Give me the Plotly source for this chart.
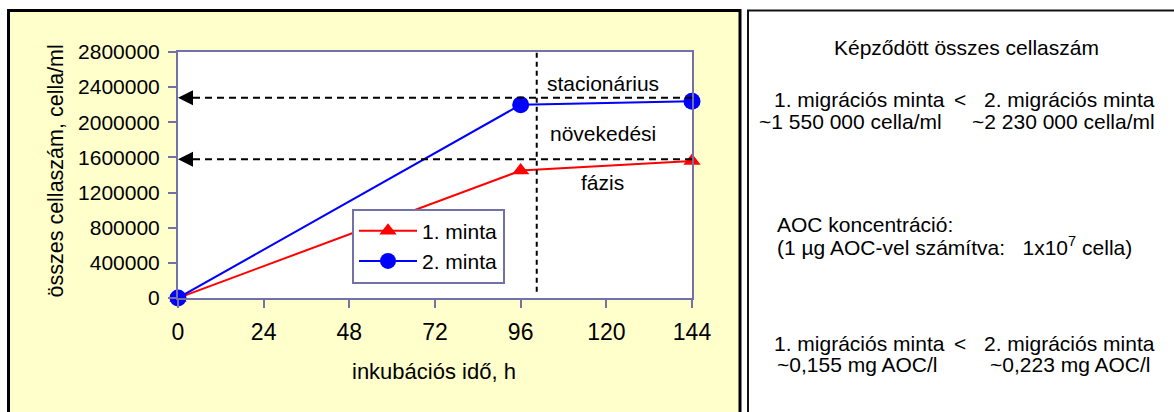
import plotly.graph_objects as go

# ---- data ----
time_h = [0, 96, 144]
minta1 = [0, 1450000, 1560000]
minta2 = [0, 2200000, 2240000]
series_names = ["1. minta", "2. minta"]
x_ticks = [0, 24, 48, 72, 96, 120, 144]
y_ticks = [0, 400000, 800000, 1200000, 1600000, 2000000, 2400000, 2800000]
level_stat = [2280000, 1580000]   # dashed arrow levels
phase_x = 100.5                   # vertical phase boundary
phase_labels = ["stacionárius", "növekedési", "fázis"]
phase_label_y = [2445000, 1877000, 1320000]
phase_label_x = 119

FONT = "Liberation Sans, Arial, sans-serif"
AX = "#7272A8"

# plot-area pixel geometry
L, T, W, H = 178, 52, 514, 246
FW, FH = 1174, 412


def px(x):
    return (x - L) / W


def py(y):
    return 1 - (y - T) / H


fig = go.Figure()
fig.add_trace(go.Scatter(x=time_h, y=minta1, name=series_names[0], mode="lines+markers",
                         line=dict(color="#FF0000", width=2),
                         marker=dict(symbol="triangle-up", size=15, color="#FF0000"),
                         cliponaxis=False, legendgroup="a"))
fig.add_trace(go.Scatter(x=time_h, y=minta2, name=series_names[1], mode="lines+markers",
                         line=dict(color="#0000FF", width=2),
                         marker=dict(symbol="circle", size=17, color="#0000FF"),
                         cliponaxis=False, legendgroup="b"))

shapes = [
    # left yellow panel
    dict(type="rect", xref="paper", yref="paper", x0=px(8.5), x1=px(740), y0=py(10.5), y1=py(440),
         fillcolor="#FFFFCC", line=dict(color="black", width=3), layer="below"),
    # right white panel
    dict(type="rect", xref="paper", yref="paper", x0=px(748), x1=px(1200), y0=py(10.5), y1=py(440),
         fillcolor="white", line=dict(color="#111111", width=2), layer="below"),
    # plot area background
    dict(type="rect", xref="paper", yref="paper", x0=0, x1=1, y0=0, y1=1,
         fillcolor="white", line=dict(width=0), layer="below"),
    # vertical phase line
    dict(type="line", xref="x", yref="y", x0=phase_x, x1=phase_x, y0=70000, y1=2800000,
         line=dict(color="black", width=2, dash="5px,4px")),
]
for lv in level_stat:
    shapes.append(dict(type="line", xref="x", yref="y", x0=144, x1=2, y0=lv, y1=lv,
                       line=dict(color="black", width=2, dash="7px,5px")))

annotations = []
for lv in level_stat:
    annotations.append(dict(x=0, y=lv, ax=3, ay=lv, xref="x", yref="y", axref="x", ayref="y",
                            text="", showarrow=True, arrowhead=2, arrowsize=1.5, arrowwidth=2,
                            arrowcolor="black"))
for lab, ly in zip(phase_labels, phase_label_y):
    annotations.append(dict(x=phase_label_x, y=ly, xref="x", yref="y", text=lab, showarrow=False,
                            font=dict(family=FONT, size=21, color="black")))

# axis titles
annotations.append(dict(x=px(434), y=py(371), xref="paper", yref="paper", text="inkubációs idő, h",
                        showarrow=False, xanchor="center", yanchor="middle",
                        font=dict(family=FONT, size=22, color="black")))
annotations.append(dict(x=px(55), y=py(171.5), xref="paper", yref="paper",
                        text="összes cellaszám, cella/ml", textangle=-90,
                        showarrow=False, xanchor="center", yanchor="middle",
                        font=dict(family=FONT, size=21.5, color="black")))


# right panel text
def rtext(text, x, y, anchor):
    annotations.append(dict(x=px(x), y=py(y), xref="paper", yref="paper", text=text,
                            showarrow=False, xanchor=anchor, yanchor="middle",
                            font=dict(family=FONT, size=21, color="black")))


rtext("Képződött összes cellaszám", 966.7, 47, "center")
rtext("1. migrációs minta", 771.7, 99, "left")
rtext("<", 960, 99, "center")
rtext("2. migrációs minta", 1157, 99, "right")
rtext("~1 550 000 cella/ml", 756.7, 121, "left")
rtext("~2 230 000 cella/ml", 1157, 121, "right")
rtext("AOC koncentráció:", 775, 224, "left")
rtext("(1 µg AOC-vel számítva:   1x10<sup>7</sup> cella)", 775, 246, "left")
rtext("1. migrációs minta", 771.7, 343, "left")
rtext("<", 960, 343, "center")
rtext("2. migrációs minta", 1157, 343, "right")
rtext("~0,155 mg AOC/l", 775, 364, "left")
rtext("~0,223 mg AOC/l", 988, 364, "left")

fig.update_layout(
    width=FW, height=FH,
    margin=dict(l=L, r=FW - L - W, t=T, b=FH - T - H, pad=0),
    paper_bgcolor="white", plot_bgcolor="white",
    shapes=shapes, annotations=annotations,
    showlegend=True,
    legend=dict(x=px(352), y=py(208.5), xanchor="left", yanchor="top",
                bgcolor="white", bordercolor=AX, borderwidth=2,
                font=dict(family=FONT, size=21, color="black"),
                tracegroupgap=8, traceorder="normal", itemwidth=58),
    font=dict(family=FONT, color="black"),
)
fig.update_xaxes(range=[0, 144], tickvals=x_ticks, ticktext=[str(v) for v in x_ticks],
                 showgrid=False, zeroline=False, showline=True, mirror=True, automargin=False,
                 linecolor=AX, linewidth=2, ticks="outside", ticklen=8, tickwidth=2,
                 tickcolor=AX, tickfont=dict(family=FONT, size=23, color="black"),
                 ticklabelstandoff=4)
fig.update_yaxes(range=[0, 2800000], tickvals=y_ticks, ticktext=[str(v) for v in y_ticks],
                 showgrid=False, zeroline=False, showline=True, mirror=True, automargin=False,
                 linecolor=AX, linewidth=2, ticks="outside", ticklen=8, tickwidth=2,
                 tickcolor=AX, tickfont=dict(family=FONT, size=21, color="black"),
                 ticklabelstandoff=4)

fig.write_html(
    "out.html",
    config={"displayModeBar": False},
    post_script="document.body.style.margin='0';document.body.style.padding='0';"
                "document.documentElement.style.overflow='hidden';",
)
